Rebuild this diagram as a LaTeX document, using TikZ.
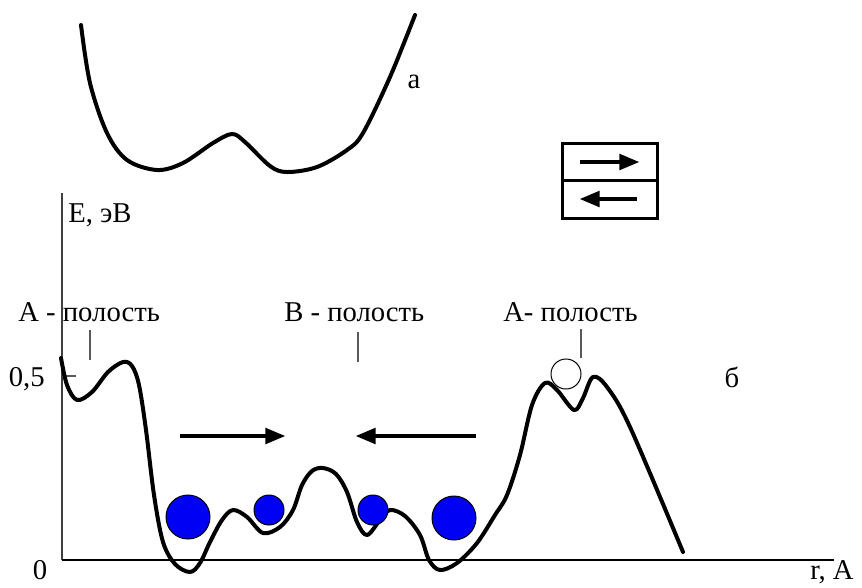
\documentclass[tikz,border=0pt]{standalone}
\usepackage{fontspec}
\setmainfont{Liberation Serif}
\usetikzlibrary{arrows}
\definecolor{ballblue}{RGB}{0,0,245}
\tikzset{
  lbl/.style = {inner sep=0pt, font=\fontsize{20.4}{24}\selectfont},
  axis_line/.style = {draw=black!75, line width=0.45mm},
  pointer/.style = {draw=black!65, line width=0.35mm},
  curve_line/.style = {draw=black, line width=1mm, line cap=round, line join=round},
  move_arrow/.style = {draw=black, line width=0.8mm, -triangle 45},
  big_ball/.style = {circle, draw=black, fill=ballblue, line width=0.25mm,
    minimum size=11mm, inner sep=0pt},% ion in the A cavity
  small_ball/.style = {big_ball, minimum size=7.5mm},% ion in the B cavity
  free_ball/.style = {circle, draw=black, line width=0.25mm,
    minimum size=7.5mm, inner sep=0pt}% empty place
}
\begin{document}
\begin{tikzpicture}[x=0.25mm, y=-0.25mm]
  \useasboundingbox (0,0) rectangle (862,587);
  % axes
  \coordinate (origin) at (62,560);
  \coordinate (ytop) at (62,193);
  \coordinate (xend) at (834,560);
  \draw[axis_line] (ytop) -- (origin);
  \draw[draw=black, line width=0.5mm] (origin) -- (xend);
  \coordinate (tick_l) at (62,376);
  \coordinate (tick_r) at (76,376);
  \draw[pointer] (tick_l) -- (tick_r);
  \node[lbl, anchor=base west] (ylabel) at (68,222) {E, эВ};
  \node[lbl, anchor=base east] (half) at (45,386) {0,5};
  \node[lbl, anchor=base] (zero) at (40,579) {0};
  \node[lbl, anchor=base east] (xlabel) at (854,579) {r, A};
  % cavity labels
  \node[lbl, anchor=base west] (cav_a1) at (18,321) {А - полость};
  \node[lbl, anchor=base west] (cav_b) at (284,321) {В - полость};
  \node[lbl, anchor=base west] (cav_a2) at (503,321) {А- полость};
  \coordinate (p1_top) at (90,330);  \coordinate (p1_bot) at (90,360);
  \coordinate (p2_top) at (358,332); \coordinate (p2_bot) at (358,362);
  \coordinate (p3_top) at (581,329); \coordinate (p3_bot) at (581,358);
  \draw[pointer] (p1_top) -- (p1_bot);
  \draw[pointer] (p2_top) -- (p2_bot);
  \draw[pointer] (p3_top) -- (p3_bot);
  \node[lbl, anchor=base] (mark_b) at (732,387) {б};
  \node[lbl, anchor=base] (mark_a) at (414,88) {а};
  % potential curve (a)
  \draw[curve_line] plot[smooth, tension=0.55] coordinates {
    (81,25) (90,83) (107,133) (127,160) (157,170) (183,163) (213,143)
    (232,134) (245,142) (270,166) (287,172) (317,167) (347,150)
    (363,133) (390,77) (415,15)};
  % potential curve (b)
  \draw[curve_line] plot[smooth, tension=0.55] coordinates {
    (61,358) (67,385) (77,400) (92,392) (108,372) (123,362) (132,366)
    (139,385) (146,430) (154,495) (163,542) (175,564) (190,572)
    (200,563) (210,542) (222,520) (233,510) (247,517) (263,533)
    (280,527) (293,510) (302,485) (312,471) (323,468) (336,474)
    (347,492) (357,522) (367,535) (380,520) (390,510) (405,516)
    (420,535) (429,560) (440,570) (457,563) (477,543) (495,515)
    (507,495) (520,455) (532,405) (545,383) (557,390) (574,410)
    (583,398) (593,377) (607,387) (630,427) (683,552)};
  % ions
  \node[big_ball] (ion1) at (188,517) {};
  \node[small_ball] (ion2) at (269,510) {};
  \node[small_ball] (ion3) at (373,510) {};
  \node[big_ball] (ion4) at (454,518) {};
  \node[free_ball] (hole) at (566,374) {};
  % motion arrows
  \coordinate (m1_s) at (180,436); \coordinate (m1_e) at (285,436);
  \coordinate (m2_s) at (476,436); \coordinate (m2_e) at (356,436);
  \draw[move_arrow] (m1_s) -- (m1_e);
  \draw[move_arrow] (m2_s) -- (m2_e);
  % legend box
  \node[draw=black, line width=0.75mm, minimum width=23.75mm, minimum height=18.75mm,
    inner sep=0pt] (legend) at (609.5,180.5) {};
  \draw[draw=black, line width=0.75mm] (legend.west) -- (legend.east);
  \coordinate (b1_s) at (580,162); \coordinate (b1_e) at (639,162);
  \coordinate (b2_s) at (637,199); \coordinate (b2_e) at (580,199);
  \draw[move_arrow] (b1_s) -- (b1_e);
  \draw[move_arrow] (b2_s) -- (b2_e);
\end{tikzpicture}
\end{document}
